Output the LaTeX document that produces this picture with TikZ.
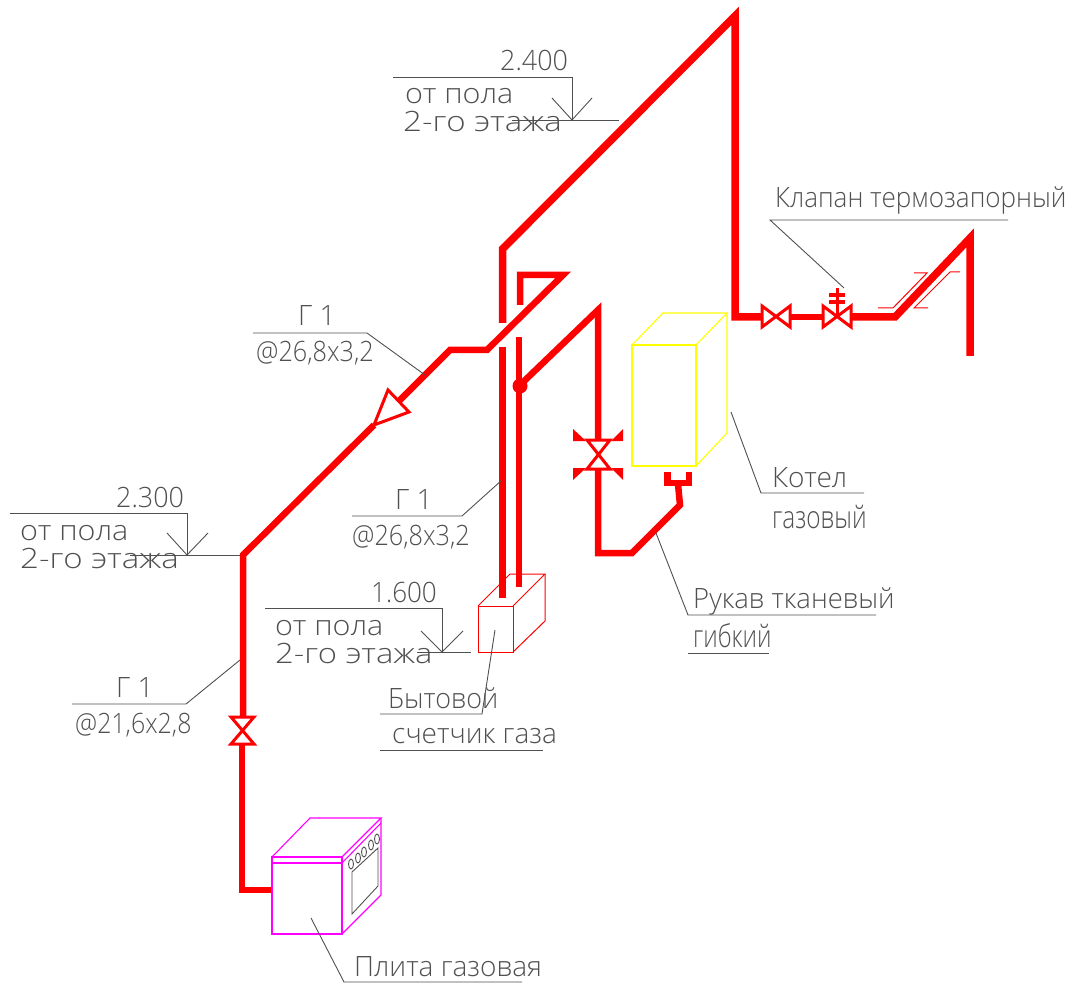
\documentclass[tikz,border=0pt]{standalone}
\usepackage{fontspec}
\setmainfont{Open Sans Light}
\usepackage{xcolor}
\usetikzlibrary{positioning}
\definecolor{pipered}{HTML}{FF0000}
\definecolor{leadgray}{HTML}{505050}
\definecolor{stovepink}{RGB}{255,0,255}
\definecolor{boileryellow}{RGB}{255,255,0}
\begin{document}
\begin{tikzpicture}[x=1pt, y=-1pt, line join=miter]
    \tikzstyle{pipe} = [draw=pipered, line width=7.5pt, line cap=butt]
    \tikzstyle{thinpipe} = [draw=pipered, line width=6.5pt, line cap=butt]
    \tikzstyle{fitting} = [draw=pipered, line width=3pt, fill=white]
    \tikzstyle{wing} = [fill=pipered, draw=none]
    \tikzstyle{leader} = [draw=leadgray, line width=0.9pt]
    \tikzstyle{outline} = [line width=1.1pt]
    \tikzstyle{label} = [text=leadgray, font=\fontsize{28pt}{28pt}\selectfont, inner sep=0pt, anchor=base west]
    \tikzstyle{fit} = [transform shape, xscale=#1]
    \useasboundingbox (0,0) rectangle (1074,984);

    % pipes
    \draw [pipe] (502.5,323) -- (502.5,249) -- (735,16) -- (735,317) -- (762,317);
    \draw [pipe] (502.5,347) -- (502.5,598);
    \draw [thinpipe] (520,305) -- (520,275) -- (563,275) -- (487,350) -- (450,350) -- (398,402);
    \draw [thinpipe] (374,425) -- (243,555) -- (243,718);
    \draw [thinpipe] (242,745) -- (242,890) -- (272,890);
    \draw [thinpipe] (519,337) -- (519,587);
    \draw [thinpipe] (519,386) -- (598,310) -- (598,440);
    \draw [thinpipe] (598,469) -- (598,553) -- (632,553) -- (680,505) -- (678,484);
    \draw [thinpipe] (667.5,472) -- (667.5,483) -- (689,483) -- (689,472);
    \draw [thinpipe] (790,317) -- (823,317);
    \draw [pipe] (851,317) -- (895,317) -- (970,238) -- (970,356);
    \fill [pipered] (520,386) circle (7.5);

    % valves
    \draw [fitting] (231,717) -- (254,717) -- (231,744) -- (254,744) -- cycle;
    \draw [fitting] (587,440) -- (610,440) -- (587,469) -- (610,469) -- cycle;
    \draw [fitting] (762,306) -- (762,327) -- (790,306) -- (790,327) -- cycle;
    \draw [fitting] (823,306) -- (823,327) -- (851,306) -- (851,327) -- cycle;
    \fill [wing] (573,429) -- (573,441) -- (586,441) -- cycle;
    \fill [wing] (623,429) -- (623,441) -- (611,441) -- cycle;
    \fill [wing] (573,480) -- (573,468) -- (586,468) -- cycle;
    \fill [wing] (623,480) -- (623,468) -- (611,468) -- cycle;
    \draw [fitting] (388,390) -- (409,412) -- (374,425) -- cycle;
    \draw [pipered, line width=3pt] (837,317) -- (837,288);
    \draw [pipered, line width=3.5pt] (829,295) -- (845,295);
    \draw [pipered, line width=3.5pt] (829,302) -- (845,302);
    \draw [pipered, line width=1pt] (878,308) -- (893,308) -- (927,273) -- (914,273);
    \draw [pipered, line width=1pt] (928,308) -- (914,308) -- (950,272) -- (960,272);

    % boiler
    \draw [boileryellow, outline] (632,345) rectangle (696,466);
    \draw [boileryellow, outline] (632,345) -- (663,313) -- (727,313) -- (696,345);
    \draw [boileryellow, outline] (727,313) -- (727,433) -- (696,466);

    % meter
    \draw [pipered, line width=1pt] (478,606) rectangle (513,652);
    \draw [pipered, line width=1pt] (478,606) -- (510,574) -- (545,574) -- (513,606);
    \draw [pipered, line width=1pt] (545,574) -- (545,621) -- (513,652);

    % stove
    \draw [stovepink, outline] (272,857) rectangle (342,934);
    \draw [stovepink, outline] (272,863) -- (342,863);
    \draw [stovepink, outline] (272,857) -- (310,818) -- (381,818) -- (342,857);
    \draw [stovepink, outline] (381,818) -- (381,895) -- (342,934);
    \draw [stovepink, outline] (342,863) -- (381,823);
    \draw [leader] (352,872) -- (378,848) -- (378,886) -- (352,914) -- cycle;
    \foreach \kx/\ky in {351/864, 358/858, 364/852, 371/845, 377/839}
        \draw [leader] (\kx,\ky) ellipse (2.5 and 5);

    % level marks
    \draw [leader] (393,77) -- (572,77) -- (572,120);
    \draw [leader] (512,120) -- (619,120);
    \draw [leader] (552,98) -- (572,120) -- (592,98);
    \draw [leader] (10,513) -- (187,513) -- (187,555);
    \draw [leader] (130,555) -- (240,555);
    \draw [leader] (167,533) -- (187,555) -- (208,533);
    \draw [leader] (265,608) -- (442,608) -- (442,652);
    \draw [leader] (417,652) -- (471,652);
    \draw [leader] (421,631) -- (442,652) -- (463,631);

    % callouts
    \draw [leader] (253,333) -- (367,333) -- (425,375);
    \draw [leader] (352,516) -- (462,516) -- (502,480);
    \draw [leader] (72,704) -- (186,704) -- (240,660);
    \draw [leader] (1008,220) -- (770,220) -- (844,288);
    \draw [leader] (864,493) -- (761,493) -- (731,412);
    \draw [leader] (876,615) -- (688,615) -- (656,533);
    \draw [leader] (688,653) -- (769,653);
    \draw [leader] (380,714) -- (482,714) -- (495,630);
    \draw [leader] (380,750) -- (543,750);
    \draw [leader] (522,982) -- (344,982) -- (311,918);

    % texts
    \node (level1) [label, fit=0.96] at (500,71) {2.400};
    \node (floor1a) [label, fit=1.09] at (405,104) {от пола};
    \node (floor1b) [label, fit=1.18] at (403,132) {2-го этажа};
    \node (level2) [label, fit=0.96] at (116,507) {2.300};
    \node (floor2a) [label, fit=1.09] at (20,540) {от пола};
    \node (floor2b) [label, fit=1.18] at (20,568) {2-го этажа};
    \node (level3) [label, fit=0.93] at (371,602) {1.600};
    \node (floor3a) [label, fit=1.09] at (275,635) {от пола};
    \node (floor3b) [label, fit=1.17] at (275,663) {2-го этажа};
    \node (size1a) [label] at (298,326) {Г 1};
    \node (size1b) [label, fit=0.9] at (256,362) {@26,8x3,2};
    \node (size2a) [label] at (395,509) {Г 1};
    \node (size2b) [label, fit=0.9] at (352,545) {@26,8x3,2};
    \node (size3a) [label] at (116,697) {Г 1};
    \node (size3b) [label, fit=0.89] at (75,733) {@21,6x2,8};
    \node (valvetext) [label, fit=0.93] at (775,208) {Клапан термозапорный};
    \node (boilera) [label] at (772,487) {Котел};
    \node (boilerb) [label, fit=0.87, yscale=1.12] at (772,528) {газовый};
    \node (hosea) [label, fit=0.98] at (693,608) {Рукав тканевый};
    \node (hoseb) [label, fit=0.86, yscale=1.12] at (693,647) {гибкий};
    \node (metera) [label, fit=0.96] at (388,708) {Бытовой};
    \node (meterb) [label] at (392,743) {счетчик газа};
    \node (stovetext) [label] at (354,976) {Плита газовая};
\end{tikzpicture}
\end{document}
